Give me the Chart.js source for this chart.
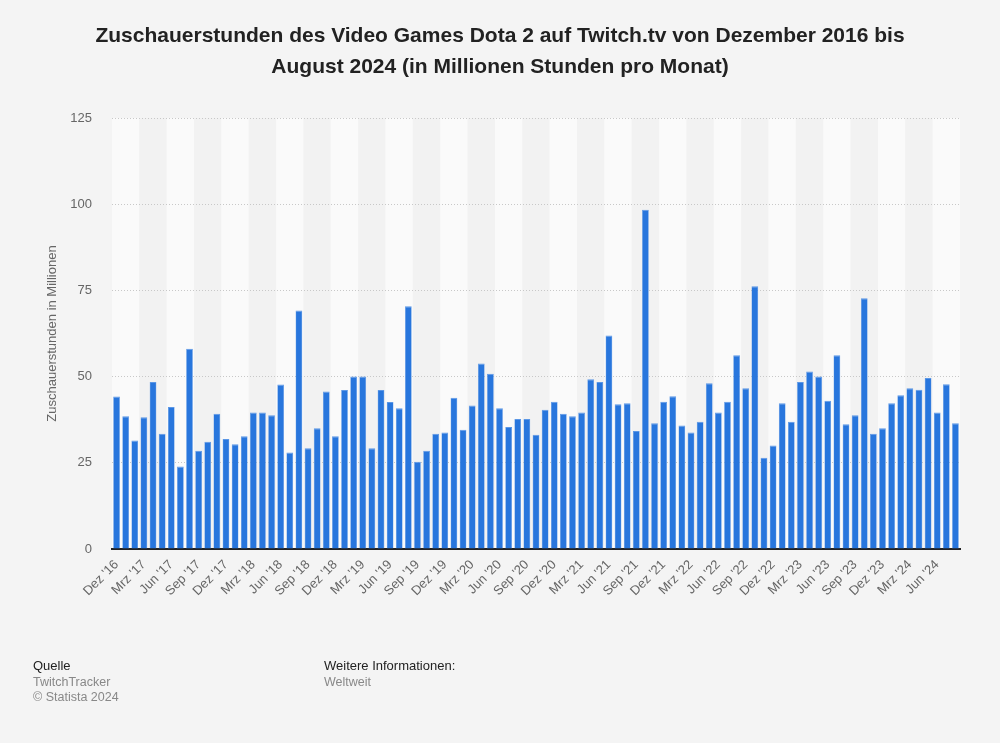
<!DOCTYPE html>
<html>
<head>
<meta charset="utf-8">
<script src="https://cdn.jsdelivr.net/npm/chart.js@4"></script>
<style>
  body { margin: 0; background: #f4f4f4; font-family: "Liberation Sans", Arial, sans-serif; }
  #wrap { position: relative; width: 1000px; height: 743px; }
  #chart { position: absolute; left: 0; top: 0; }
  .foot { position: absolute; font-size: 12.5px; line-height: 15.5px; color: #888; }
  .foot b { font-weight: normal; color: #222; font-size: 13px; }
</style>
</head>
<body>
<div id="wrap">
  <canvas id="chart" width="1000" height="743"></canvas>
  <div class="foot" style="left:33px; top:658px;"><b>Quelle</b><br>TwitchTracker<br>© Statista 2024</div>
  <div class="foot" style="left:324px; top:658px;"><b>Weitere Informationen:</b><br>Weltweit</div>
</div>
<script>
var months = ["Jan", "Feb", "Mrz", "Apr", "Mai", "Jun", "Jul", "Aug", "Sep", "Okt", "Nov", "Dez"];
var labels = ["Dez '16"];
for (var yr = 17; yr <= 24; yr++) {
  for (var m = 0; m < 12; m++) {
    if (yr == 24 && m > 7) break;
    labels.push(months[m] + " '" + yr);
  }
}

// Zuschauerstunden in Millionen (Dez 2016 - Aug 2024)
var hours2016 = [44.2];
var hours2017 = [38.5, 31.5, 38.2, 48.4, 33.4, 41.2, 23.9, 58.1, 28.5, 31.1, 39.2, 31.9];
var hours2018 = [30.4, 32.7, 39.6, 39.6, 38.8, 47.7, 28.0, 69.2, 29.2, 35.0, 45.7, 32.7];
var hours2019 = [46.1, 50.0, 50.0, 29.2, 46.1, 42.6, 40.8, 70.4, 25.3, 28.5, 33.4, 33.8];
var hours2020 = [43.9, 34.6, 41.6, 53.8, 50.8, 40.8, 35.4, 37.7, 37.7, 33.1, 40.4, 42.7];
var hours2021 = [39.2, 38.5, 39.6, 49.2, 48.4, 61.9, 42.0, 42.3, 34.2, 98.4, 36.5, 42.7];
var hours2022 = [44.3, 35.8, 33.8, 36.9, 48.1, 39.6, 42.7, 56.2, 46.6, 76.2, 26.5, 30.0];
var hours2023 = [42.3, 36.9, 48.4, 51.5, 50.0, 43.0, 56.2, 36.2, 38.8, 72.7, 33.4, 35.0];
var hours2024 = [42.3, 44.6, 46.6, 46.2, 49.6, 39.6, 47.8, 36.5];

var values = hours2016.concat(hours2017, hours2018, hours2019, hours2020, hours2021, hours2022, hours2023, hours2024);
var yTicks = [0, 25, 50, 75, 100, 125];

var bands = {
  id: "bands",
  beforeDraw: function(chart) {
    var ctx = chart.ctx, area = chart.chartArea, x = chart.scales.x;
    var step = (x.getPixelForValue(1) - x.getPixelForValue(0));
    ctx.save();
    for (var i = 0; i < labels.length; i += 3) {
      var x0 = x.getPixelForValue(i) - step / 2;
      var x1 = Math.min(x0 + step * 3, area.right);
      ctx.fillStyle = (i / 3) % 2 == 0 ? "#fafafa" : "#f2f2f2";
      ctx.fillRect(x0, area.top, x1 - x0, area.bottom - area.top);
    }
    ctx.restore();
  }
};

var ctx = document.getElementById("chart").getContext("2d");
var chart = new Chart(ctx, {
  type: "bar",
  data: {
    labels: labels,
    datasets: [{
      data: values,
      backgroundColor: "#2876dd",
      borderColor: "#5b97e6",
      borderWidth: { top: 1, left: 0.5, right: 0.5, bottom: 0 },
      barPercentage: 0.74,
      categoryPercentage: 1
    }]
  },
  options: {
    responsive: false,
    animation: false,
    layout: { padding: { left: 0, right: 40, top: 118, bottom: 0 } },
    plugins: {
      legend: { display: false },
      tooltip: { enabled: false },
      title: { display: false }
    },
    scales: {
      x: {
        grid: { display: false },
        border: { color: "#222", width: 2 },
        ticks: {
          autoSkip: false,
          minRotation: 45,
          maxRotation: 45,
          padding: 0,
          color: "#666",
          font: { family: "'Liberation Sans', Arial, sans-serif", size: 13 },
          callback: function(v, i) { return i % 3 == 0 ? labels[i] : ""; }
        },
        afterFit: function(s) { s.height = 194; }
      },
      y: {
        min: 0,
        max: 125,
        afterBuildTicks: function(s) { s.ticks = yTicks.map(function(v) { return { value: v }; }); },
        grid: { color: "#c8c8c8", borderDash: [1, 2], drawTicks: false },
        border: { display: false, dash: [1, 2] },
        ticks: {
          padding: 20,
          color: "#666",
          font: { family: "'Liberation Sans', Arial, sans-serif", size: 13 }
        },
        title: {
          display: true,
          text: "Zuschauerstunden in Millionen",
          color: "#666",
          font: { family: "'Liberation Sans', Arial, sans-serif", size: 13 },
          padding: { top: 45, bottom: 0 }
        },
        afterFit: function(s) { s.width = 112; }
      }
    }
  },
  plugins: [bands, {
    id: "heading",
    afterDraw: function(chart) {
      var c = chart.ctx;
      c.save();
      c.fillStyle = "#222";
      c.font = "bold 21px 'Liberation Sans', Arial, sans-serif";
      c.textAlign = "center";
      c.textBaseline = "middle";
      c.fillText("Zuschauerstunden des Video Games Dota 2 auf Twitch.tv von Dezember 2016 bis", 500, 36);
      c.fillText("August 2024 (in Millionen Stunden pro Monat)", 500, 67);
      c.restore();
    }
  }]
});
</script>
</body>
</html>
